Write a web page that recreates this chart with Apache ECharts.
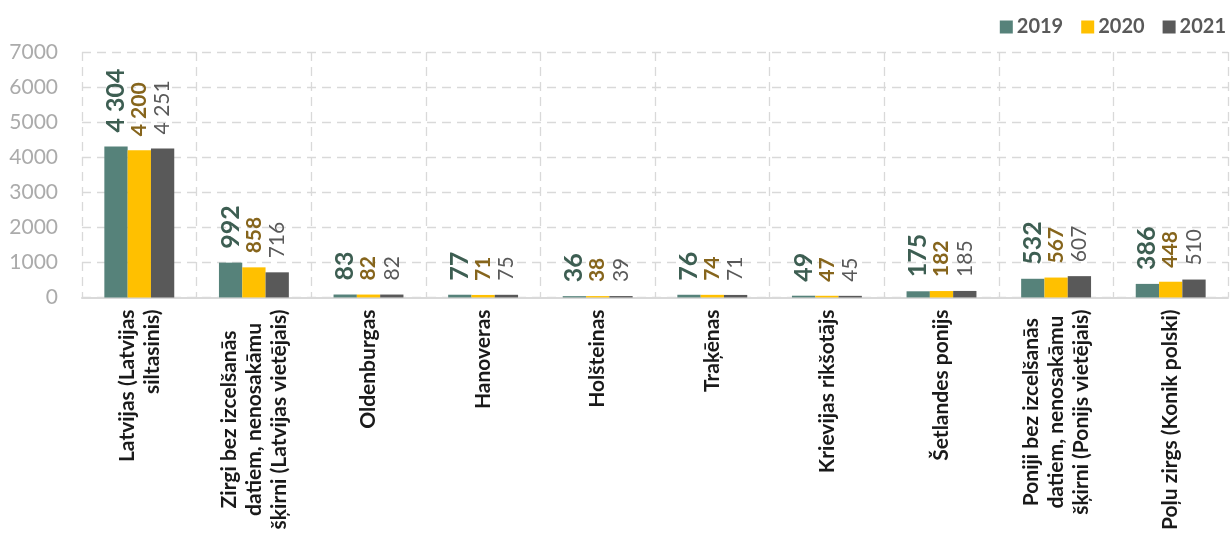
<!DOCTYPE html>
<html>
<head>
<meta charset="utf-8">
<script src="https://cdn.jsdelivr.net/npm/echarts@6/dist/echarts.min.js"></script>
<style>
html,body{margin:0;padding:0;background:#fff;}
#chart{width:1231px;height:533px;}
</style>
</head>
<body>
<div id="chart"></div>
<script>
const categories = [
  "Latvijas (Latvijas\nsiltasinis)",
  "Zirgi bez izcelšanās\ndatiem, nenosakāmu\nšķirni (Latvijas vietējais)",
  "Oldenburgas",
  "Hanoveras",
  "Holšteinas",
  "Traķēnas",
  "Krievijas rikšotājs",
  "Šetlandes ponijs",
  "Poniji bez izcelšanās\ndatiem, nenosakāmu\nšķirni (Ponijs vietējais)",
  "Poļu zirgs (Konik polski)"
];
const seriesNames = ["2019", "2020", "2021"];
const values2019 = [4304, 992, 83, 77, 36, 76, 49, 175, 532, 386];
const values2020 = [4200, 858, 82, 71, 38, 74, 47, 182, 567, 448];
const values2021 = [4251, 716, 82, 75, 39, 71, 45, 185, 607, 510];
const yTicks = [0, 1000, 2000, 3000, 4000, 5000, 6000, 7000];

const FONT = "Lato";
const barColors = ["#56827a", "#ffc000", "#595959"];
const labelStyles = [
  {color: "#3d5e52", fontSize: 25, fontWeight: "bold"},
  {color: "#86651c", fontSize: 21, fontWeight: "bold"},
  {color: "#595959", fontSize: 21, fontWeight: "normal"}
];

function fmt(v) {
  return String(v).replace(/\B(?=(\d{3})+(?!\d))/g, " ");
}

const dataSets = [values2019, values2020, values2021];
const series = dataSets.map((d, i) => ({
  name: seriesNames[i],
  type: "bar",
  data: d,
  barGap: "0%",
  barCategoryGap: "39%",
  itemStyle: {color: barColors[i]},
  label: {
    show: true,
    position: "top",
    rotate: 90,
    align: "left",
    verticalAlign: "middle",
    distance: 14,
    fontFamily: FONT,
    fontSize: labelStyles[i].fontSize,
    fontWeight: labelStyles[i].fontWeight,
    color: labelStyles[i].color,
    formatter: p => fmt(p.value)
  }
}));

const gridDash = {color: "#d9d9d9", width: 1.3, type: [9, 6]};

const option = {
  animation: false,
  backgroundColor: "#ffffff",
  textStyle: {fontFamily: FONT},
  legend: {
    data: seriesNames,
    right: 0,
    top: 12,
    icon: "rect",
    itemWidth: 13,
    itemHeight: 13,
    itemGap: 18,
    textStyle: {fontFamily: FONT, fontSize: 20, fontWeight: "bold", color: "#595959", padding: [0, 0, 0, -1]}
  },
  grid: {left: 82, right: 3, top: 52, bottom: 226, containLabel: false},
  xAxis: {
    type: "category",
    data: categories,
    axisLine: {show: true, lineStyle: {color: "#d9d9d9", width: 2}},
    axisTick: {show: false},
    splitLine: {show: true, interval: 0, lineStyle: gridDash},
    axisLabel: {
      interval: 0,
      rotate: 90,
      margin: 12,
      formatter: function (v, idx) {
        const tag = idx === 0 ? "r" : "c";
        return v.split("\n").map(l => "{" + tag + "|" + l + "}").join("\n");
      },
      rich: {
        c: {align: "center", fontFamily: FONT, fontSize: 21, fontWeight: "bold", color: "#1a1a1a", lineHeight: 25},
        r: {align: "right", fontFamily: FONT, fontSize: 21, fontWeight: "bold", color: "#1a1a1a", lineHeight: 25}
      }
    }
  },
  yAxis: {
    type: "value",
    min: yTicks[0],
    max: yTicks[yTicks.length - 1],
    interval: yTicks[1] - yTicks[0],
    axisLine: {show: false},
    axisTick: {show: false},
    splitLine: {show: true, lineStyle: gridDash},
    axisLabel: {
      margin: 24,
      fontFamily: FONT,
      fontSize: 21,
      color: "#ababab",
      formatter: v => String(v)
    }
  },
  series: series
};

const chart = echarts.init(document.getElementById("chart"), null, {renderer: "canvas"});
chart.setOption(option);
</script>
</body>
</html>
